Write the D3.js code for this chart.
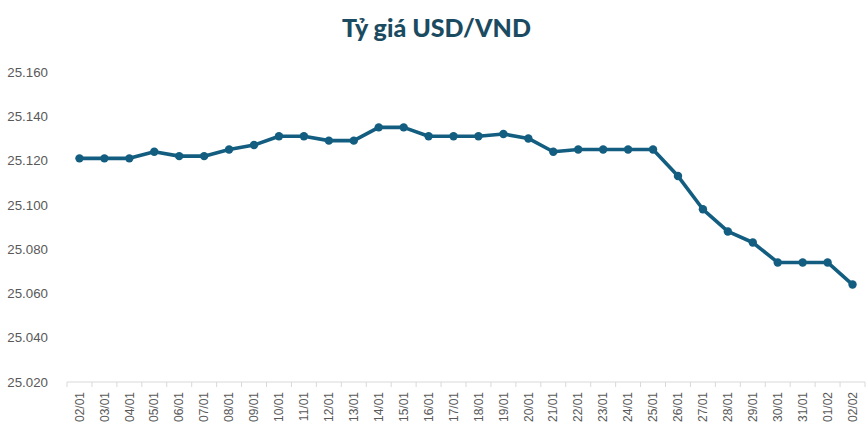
<!DOCTYPE html>
<html>
<head>
<meta charset="utf-8">
<script src="https://cdn.jsdelivr.net/npm/d3@7"></script>
<style>
  body { margin: 0; background: #fff; }
</style>
</head>
<body>
<div id="chart"></div>
<script>
var dates = ["02/01", "03/01", "04/01", "05/01", "06/01", "07/01", "08/01", "09/01",
  "10/01", "11/01", "12/01", "13/01", "14/01", "15/01", "16/01", "17/01",
  "18/01", "19/01", "20/01", "21/01", "22/01", "23/01", "24/01", "25/01",
  "26/01", "27/01", "28/01", "29/01", "30/01", "31/01", "01/02", "02/02"];

var rates = [25121, 25121, 25121, 25124, 25122, 25122, 25125, 25127,
  25131, 25131, 25129, 25129, 25135, 25135, 25131, 25131,
  25131, 25132, 25130, 25124, 25125, 25125, 25125, 25125,
  25113, 25098, 25088, 25083, 25074, 25074, 25074, 25064];

var yTicks = [25020, 25040, 25060, 25080, 25100, 25120, 25140, 25160];

var width = 867;
var height = 431;
var margin = { top: 72, right: 2, bottom: 49, left: 67 };
var labelFont = "'Liberation Sans', Arial, sans-serif";

var svg = d3.select("#chart")
  .append("svg")
    .attr("width", width)
    .attr("height", height);

var x = d3.scaleBand()
  .domain(dates)
  .range([margin.left, width - margin.right]);

var y = d3.scaleLinear()
  .domain([25020, 25160])
  .range([height - margin.bottom, margin.top]);

var fmt = function (d) {
  return d3.format(",.3f")(d / 1000).replace(",", ".");
};

// title
svg.append("text")
  .attr("x", width / 2 + 3)
  .attr("y", 37)
  .attr("text-anchor", "middle")
  .style("font-family", "Lato, 'Open Sans', sans-serif")
  .style("font-weight", "900")
  .style("font-size", "25px")
  .style("fill", "#1b4b61")
  .text("Tỷ giá USD/VND");

// y labels (no gridlines)
svg.append("g")
  .selectAll("text")
  .data(yTicks)
  .enter().append("text")
    .attr("x", 48)
    .attr("y", function (d) { return y(d); })
    .attr("dy", "0.35em")
    .attr("text-anchor", "end")
    .style("font-family", labelFont)
    .style("font-size", "13.3px")
    .style("fill", "#595959")
    .text(fmt);

// x axis
var xAxis = svg.append("g")
  .attr("transform", "translate(0," + (height - margin.bottom) + ")");

xAxis.append("line")
  .attr("x1", margin.left)
  .attr("x2", width - margin.right)
  .attr("stroke", "#d9d9d9")
  .attr("stroke-width", 1);

xAxis.selectAll(".tick")
  .data(dates.concat(["end"]))
  .enter().append("line")
    .attr("class", "tick")
    .attr("x1", function (d, i) { return i < dates.length ? x(d) : x.range()[1]; })
    .attr("x2", function (d, i) { return i < dates.length ? x(d) : x.range()[1]; })
    .attr("y1", 0)
    .attr("y2", 5)
    .attr("stroke", "#d9d9d9");

xAxis.selectAll(".label")
  .data(dates)
  .enter().append("text")
    .attr("class", "label")
    .attr("transform", function (d) {
      return "translate(" + (x(d) + x.bandwidth() / 2) + ",10) rotate(-90)";
    })
    .attr("dy", "0.35em")
    .attr("text-anchor", "end")
    .style("font-family", labelFont)
    .style("font-size", "12px")
    .style("fill", "#595959")
    .text(function (d) { return d; });

// line
var line = d3.line()
  .x(function (d, i) { return x(dates[i]) + x.bandwidth() / 2; })
  .y(function (d) { return y(d); });

svg.append("path")
  .datum(rates)
  .attr("d", line)
  .attr("fill", "none")
  .attr("stroke", "#135e80")
  .attr("stroke-width", 3.6)
  .attr("stroke-linejoin", "round");

svg.append("g")
  .selectAll("circle")
  .data(rates)
  .enter().append("circle")
    .attr("cx", function (d, i) { return x(dates[i]) + x.bandwidth() / 2; })
    .attr("cy", function (d) { return y(d); })
    .attr("r", 4.2)
    .attr("fill", "#135e80");
</script>
</body>
</html>
